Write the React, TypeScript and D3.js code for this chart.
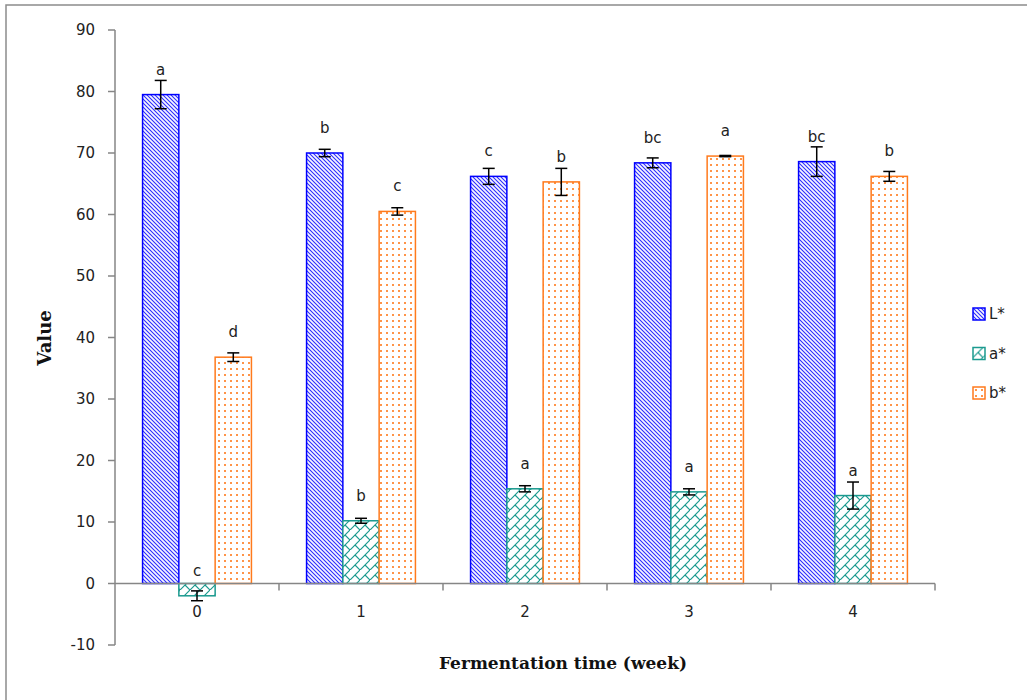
import React from 'react';
import * as d3 from 'd3';

// chart values
const weeks = ['0', '1', '2', '3', '4'];
const seriesNames = ['L*', 'a*', 'b*'];
const lValues = [79.5, 70.0, 66.2, 68.4, 68.6];
const lErrors = [2.3, 0.6, 1.3, 0.8, 2.4];
const aValues = [-2.0, 10.2, 15.4, 14.9, 14.3];
const aErrors = [0.8, 0.4, 0.5, 0.5, 2.2];
const bValues = [36.8, 60.5, 65.3, 69.5, 66.2];
const bErrors = [0.7, 0.6, 2.2, 0.1, 0.8];
const lLetters = ['a', 'b', 'c', 'bc', 'bc'];
const aLetters = ['c', 'b', 'a', 'a', 'a'];
const bLetters = ['d', 'c', 'b', 'a', 'b'];
const yTicks = [-10, 0, 10, 20, 30, 40, 50, 60, 70, 80, 90];

const series = [
  { name: seriesNames[0], values: lValues, errors: lErrors, letters: lLetters, stroke: '#0000ff', fill: 'url(#patL)' },
  { name: seriesNames[1], values: aValues, errors: aErrors, letters: aLetters, stroke: '#1b9a8f', fill: 'url(#patA)' },
  { name: seriesNames[2], values: bValues, errors: bErrors, letters: bLetters, stroke: '#ff7a1c', fill: 'url(#patB)' },
];

const W = 1027;
const H = 700;
const axisColor = '#868686';
const tickFont = '"DejaVu Sans", Tahoma, sans-serif';
const titleFont = '"DejaVu Serif", "Liberation Serif", serif';

export default function App() {
  const x0 = d3.scaleBand().domain(weeks).range([115, 935]).padding(0);
  const x1 = d3.scaleBand().domain(seriesNames).range([0, x0.bandwidth()]).paddingInner(0).paddingOuter(0.76);
  const y = d3.scaleLinear().domain([-10, 90]).range([645, 30]);
  const y0 = y(0);

  return (
    <svg width={W} height={H} style={{ position: 'absolute', left: 0, top: 0, background: '#fff' }}>
      <defs>
        <pattern id="patL" width="4" height="4" patternUnits="userSpaceOnUse">
          <rect width="4" height="4" fill="#f6f6ff" />
          <path d="M-1,-1 L5,5 M-1,3 L1,5 M3,-1 L5,1" stroke="#2a2aff" strokeWidth="1.05" />
        </pattern>
        <pattern id="patA" width="10" height="10" patternUnits="userSpaceOnUse">
          <rect width="10" height="10" fill="#ffffff" />
          <path d="M-1,11 L11,-1 M5,5 L10,10 M0,0 L0,0" stroke="#1b9a8f" strokeWidth="1.2" />
        </pattern>
        <pattern id="patB" width="6" height="6" patternUnits="userSpaceOnUse">
          <rect width="6" height="6" fill="#ffffff" />
          <rect x="2" y="2" width="2" height="2" fill="#ff9448" />
        </pattern>
      </defs>

      {/* chart frame */}
      <rect x={6} y={5} width={W + 20} height={H + 20} fill="none" stroke="#8c8c8c" strokeWidth={1.5} />

      {/* y axis */}
      <line x1={115} x2={115} y1={y(90)} y2={y(-10)} stroke={axisColor} strokeWidth={1.5} />
      {yTicks.map(t => (
        <g key={t}>
          <line x1={108} x2={115} y1={y(t)} y2={y(t)} stroke={axisColor} strokeWidth={1.5} />
          <text x={95} y={y(t)} dy="0.35em" textAnchor="end" fontFamily={tickFont} fontSize={15} fill="#222">{t}</text>
        </g>
      ))}

      {/* bars */}
      {series.map(s => (
        <g key={s.name}>
          {weeks.map((w, i) => {
            const v = s.values[i];
            const bx = x0(w)! + x1(s.name)!;
            const bw = x1.bandwidth();
            const top = Math.min(y(v), y0);
            const h = Math.abs(y(v) - y0);
            return (
              <rect key={w} x={bx} y={top} width={bw} height={h} fill={s.fill} stroke={s.stroke} strokeWidth={1.5} />
            );
          })}
        </g>
      ))}

      {/* x axis */}
      <line x1={115} x2={935} y1={y0} y2={y0} stroke={axisColor} strokeWidth={1.5} />
      {weeks.map(w => (
        <g key={w}>
          <line x1={x0(w)! + x0.bandwidth()} x2={x0(w)! + x0.bandwidth()} y1={y0} y2={y0 + 7} stroke={axisColor} strokeWidth={1.5} />
          <text x={x0(w)! + x0.bandwidth() / 2} y={y0 + 33} textAnchor="middle" fontFamily={tickFont} fontSize={15} fill="#222">{w}</text>
        </g>
      ))}

      {/* error bars and letters */}
      {series.map(s => (
        <g key={s.name + 'err'}>
          {weeks.map((w, i) => {
            const v = s.values[i];
            const e = s.errors[i];
            const cx = x0(w)! + x1(s.name)! + x1.bandwidth() / 2;
            const yt = y(v + e);
            const yb = y(v - e);
            const labelY = v >= 0 ? y(v) - 20 : y0 - 8;
            return (
              <g key={w}>
                <line x1={cx} x2={cx} y1={yt} y2={yb} stroke="#000" strokeWidth={1.5} />
                <line x1={cx - 6} x2={cx + 6} y1={yt} y2={yt} stroke="#000" strokeWidth={1.5} />
                <line x1={cx - 6} x2={cx + 6} y1={yb} y2={yb} stroke="#000" strokeWidth={1.5} />
                <text x={cx} y={labelY} textAnchor="middle" fontFamily={tickFont} fontSize={15} fill="#222">{s.letters[i]}</text>
              </g>
            );
          })}
        </g>
      ))}

      {/* axis titles */}
      <text transform="translate(51,338) rotate(-90)" textAnchor="middle" fontFamily={titleFont} fontWeight="bold" fontSize={18} fill="#111">Value</text>
      <text x={563} y={669} textAnchor="middle" fontFamily={titleFont} fontWeight="bold" fontSize={17} fill="#111">Fermentation time (week)</text>

      {/* legend */}
      {series.map((s, i) => (
        <g key={s.name + 'leg'} transform={`translate(973,${308 + i * 39.5})`}>
          <rect x={0} y={0} width={12} height={12} fill={s.fill} stroke={s.stroke} strokeWidth={1.5} />
          <text x={16} y={6} dy="0.35em" fontFamily={tickFont} fontSize={15} fill="#222">{s.name}</text>
        </g>
      ))}
    </svg>
  );
}
